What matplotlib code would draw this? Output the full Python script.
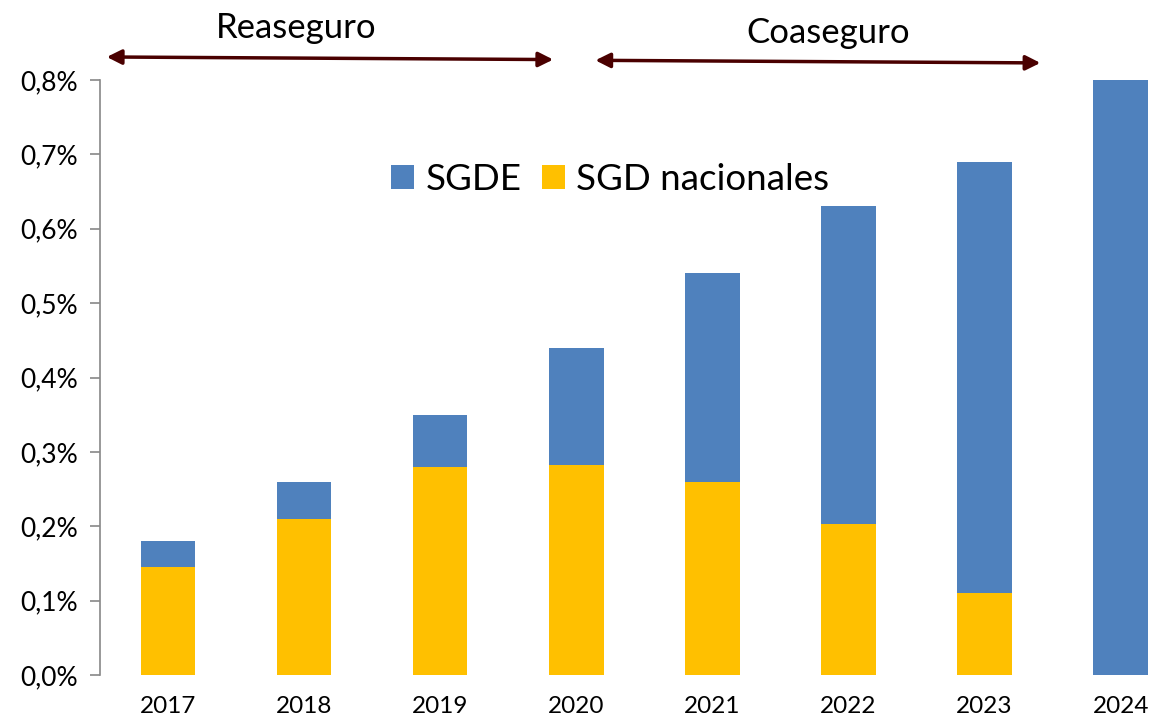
import matplotlib
matplotlib.use('Agg')
import matplotlib.pyplot as plt
import numpy as np

plt.rcParams['font.family'] = ['Lato', 'DejaVu Sans']

# Data (percent of total, stacked)
years = ['2017', '2018', '2019', '2020', '2021', '2022', '2023', '2024']
total = [0.18, 0.26, 0.35, 0.44, 0.54, 0.63, 0.69, 0.80]
sgd_nacionales = [0.145, 0.21, 0.28, 0.282, 0.26, 0.203, 0.11, 0.0]
sgde = [t - n for t, n in zip(total, sgd_nacionales)]
y_ticks = [0.0, 0.1, 0.2, 0.3, 0.4, 0.5, 0.6, 0.7, 0.8]

blue = '#4F81BD'
yellow = '#FFC000'
arrow_color = '#4A0000'

fig = plt.figure(figsize=(11.52, 7.19), dpi=100)
ax = fig.add_axes([0.0868, 0.0612, 0.9132, 0.8275])

x = np.arange(len(years))
ax.bar(x, sgd_nacionales, width=0.4, color=yellow, label='SGD nacionales')
ax.bar(x, sgde, width=0.4, bottom=sgd_nacionales, color=blue, label='SGDE')

ax.set_xlim(-0.5, 7.23)
ax.set_ylim(0, 0.8)
ax.set_yticks(y_ticks)
ax.set_yticklabels([f'{v:.1f}%'.replace('.', ',') for v in y_ticks], fontsize=19)
ax.set_xticks(x)
ax.set_xticklabels(years, fontsize=17.5)

for side in ['top', 'right', 'bottom']:
    ax.spines[side].set_visible(False)
ax.spines['left'].set_color('#888888')
ax.spines['left'].set_linewidth(1.2)
ax.tick_params(axis='y', length=7, color='#888888', width=1.2, pad=9)
ax.tick_params(axis='x', length=0, pad=15)

# legend: SGDE first
handles, labels = ax.get_legend_handles_labels()
ax.legend(handles[::-1], labels[::-1], loc='upper left', bbox_to_anchor=(0.259, 0.892),
          ncol=2, frameon=False, fontsize=26.5, handlelength=0.64, handleheight=0.64,
          handletextpad=0.3, columnspacing=0.55, borderpad=0)

# period arrows
arrow_kw = dict(arrowstyle='<|-|>', color=arrow_color, lw=2.5, mutation_scale=22,
                shrinkA=0, shrinkB=0)
ax.annotate('', xy=(-0.45, 0.831), xytext=(2.83, 0.8275), xycoords='data',
            arrowprops=arrow_kw, annotation_clip=False)
ax.annotate('', xy=(3.14, 0.8265), xytext=(6.41, 0.823), xycoords='data',
            arrowprops=arrow_kw, annotation_clip=False)
ax.text(0.94, 0.8696, 'Reaseguro', ha='center', va='center', fontsize=25, clip_on=False)
ax.text(4.85, 0.863, 'Coaseguro', ha='center', va='center', fontsize=25, clip_on=False)

plt.savefig('out.png', dpi=100)
